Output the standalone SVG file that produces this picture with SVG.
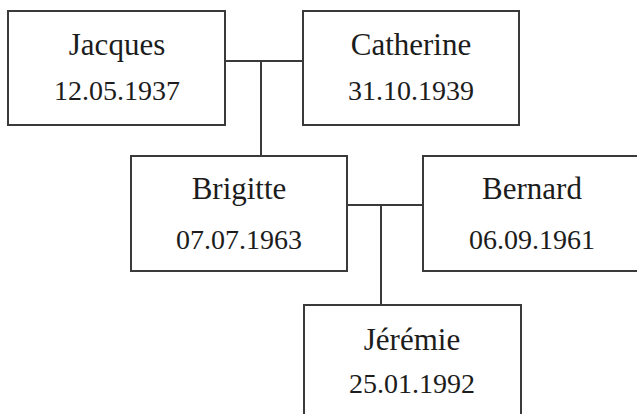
<svg xmlns="http://www.w3.org/2000/svg" width="637" height="414" viewBox="0 0 637 414">
<style>
.box{fill:#fff;stroke:#3a3a3a;stroke-width:2}
.con{fill:none;stroke:#3a3a3a;stroke-width:2}
.name{font-family:"Liberation Serif",serif;font-size:31px;fill:#1c1c1c;text-anchor:middle}
.date{font-family:"Liberation Serif",serif;font-size:28px;fill:#1c1c1c;text-anchor:middle}
</style>
<rect width="637" height="414" fill="#fff"/>
<g id="connectors">
<path class="con" d="M225 61H303M261 61V156M347 205H423M381 205V305"/>
</g>
<g id="jacques">
<rect class="box" x="8" y="11" width="217" height="114"/>
<text class="name" x="117" y="55">Jacques</text>
<text class="date" x="117" y="100">12.05.1937</text>
</g>
<g id="catherine">
<rect class="box" x="303" y="11" width="216" height="114"/>
<text class="name" x="411" y="55">Catherine</text>
<text class="date" x="411" y="100">31.10.1939</text>
</g>
<g id="brigitte">
<rect class="box" x="131" y="156" width="216" height="115"/>
<text class="name" x="239" y="199">Brigitte</text>
<text class="date" x="239" y="249">07.07.1963</text>
</g>
<g id="bernard">
<rect class="box" x="423" y="156" width="220" height="115"/>
<text class="name" x="532" y="199">Bernard</text>
<text class="date" x="532" y="249">06.09.1961</text>
</g>
<g id="jeremie">
<rect class="box" x="304" y="305" width="217" height="120"/>
<text class="name" x="412" y="350">Jérémie</text>
<text class="date" x="412" y="393">25.01.1992</text>
</g>
</svg>
